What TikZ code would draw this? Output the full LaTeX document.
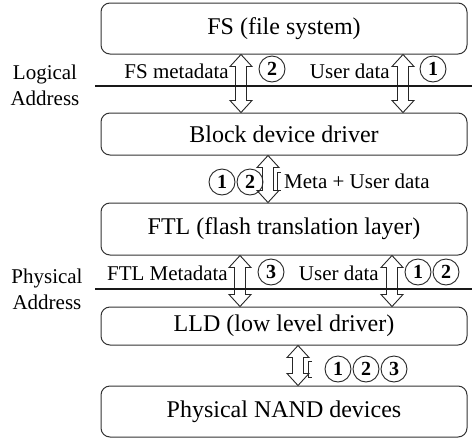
\documentclass[tikz,border=0pt]{standalone}
\usepackage{fontspec}
\setmainfont{Liberation Serif}
\usetikzlibrary{calc}
\begin{document}
\begin{tikzpicture}[x=1pt,y=-1pt,
  layer/.style={draw=black!80, line width=1pt, rounded corners=9pt,
    minimum width=366pt, inner sep=0pt, font=\fontsize{24}{28}\selectfont},
  lbl/.style={font=\fontsize{21}{25}\selectfont, inner sep=0pt},
  side/.style={font=\fontsize{21}{26}\selectfont, align=center, inner sep=0pt},
  num/.style={circle, draw=black!85, line width=0.9pt, minimum size=26pt,
    inner sep=0pt, font=\fontsize{20}{20}\selectfont\bfseries},
  bound/.style={line width=2pt, draw=black!90},
  bracket/.style={draw=black!85, line width=0.8pt},
  hollow/.style={draw=black!85, fill=white, line width=0.9pt,
    to path={let \p1=(\tikztostart), \p2=(\tikztotarget) in
      (\x1,\y1) -- (\x1+11pt,\y1-12pt) -- (\x1+5.5pt,\y1-12pt)
      -- (\x2+5.5pt,\y2+12pt) -- (\x2+11pt,\y2+12pt) -- (\x2,\y2)
      -- (\x2-11pt,\y2+12pt) -- (\x2-5.5pt,\y2+12pt)
      -- (\x1-5.5pt,\y1-12pt) -- (\x1-11pt,\y1-12pt) -- cycle}},
]
\useasboundingbox (0,0) rectangle (472,440);

% software / hardware layers
\node[layer, minimum height=51pt] (fs)   at (284,28.5) {FS (file system)};
\node[layer, minimum height=42pt] (blk)  at (284,134) {Block device driver};
\node[layer, minimum height=52pt] (ftl)  at (284,229) {FTL (flash translation layer)};
\node[layer, minimum height=38pt] (lld)  at (284,326) {LLD (low level driver)};
\node[layer, minimum height=51pt] (nand) at (284,411.5) {Physical NAND devices};

% x positions of the data paths
\coordinate (xa) at (241,0);
\coordinate (xb) at (403,0);
\coordinate (xc) at (268,0);
\coordinate (xd) at (240,0);
\coordinate (xe) at (392,0);
\coordinate (xf) at (298,0);

% data paths between layers
\draw[hollow] (fs.south -| xa) to (blk.north -| xa);
\draw[hollow] (fs.south -| xb) to (blk.north -| xb);
\draw[hollow] (blk.south -| xc) to (ftl.north -| xc);
\draw[hollow] (ftl.south -| xd) to (lld.north -| xd);
\draw[hollow] (ftl.south -| xe) to (lld.north -| xe);
\draw[hollow] (lld.south -| xf) to (nand.north -| xf);

% address boundaries
\coordinate (lgl) at (95,86);
\coordinate (lgr) at (472,86);
\coordinate (phl) at (95,289);
\coordinate (phr) at (472,289);
\draw[bound] (lgl) -- (lgr);
\draw[bound] (phl) -- (phr);

\node[side] (logical)  at (45,85)  {Logical\\Address};
\node[side] (physical) at (47,289) {Physical\\Address};

% logical address level
\node[lbl, anchor=east] (fsmeta) at (229,71) {FS metadata};
\node[num] (c2a) at (272,69) {2};
\node[lbl, anchor=east] (udata1) at (390,71) {User data};
\node[num] (c1a) at (433,69) {1};

% block driver to FTL
\node[num] (c1b) at (222,182) {1};
\node[num] (c2b) at (250,182) {2};
\coordinate (brb) at (277,181);
\draw[bracket] ($(brb)+(4,-9)$) -- ++(-4,0) -- ++(0,18) -- ++(4,0);
\node[lbl, anchor=west] (meta) at (284,181) {Meta + User data};

% physical address level
\node[lbl, anchor=east] (ftlmeta) at (228,273) {FTL Metadata};
\node[num] (c3c) at (271,272) {3};
\node[lbl, anchor=east] (udata2) at (379,273) {User data};
\node[num] (c1c) at (418,272) {1};
\node[num] (c2c) at (446,272) {2};

% LLD to NAND
\coordinate (brd) at (308,369);
\draw[bracket] ($(brd)+(4,-8)$) -- ++(-4,0) -- ++(0,16) -- ++(4,0);
\node[num] (c1d) at (338,369) {1};
\node[num] (c2d) at (366,369) {2};
\node[num] (c3d) at (394,369) {3};
\end{tikzpicture}
\end{document}
